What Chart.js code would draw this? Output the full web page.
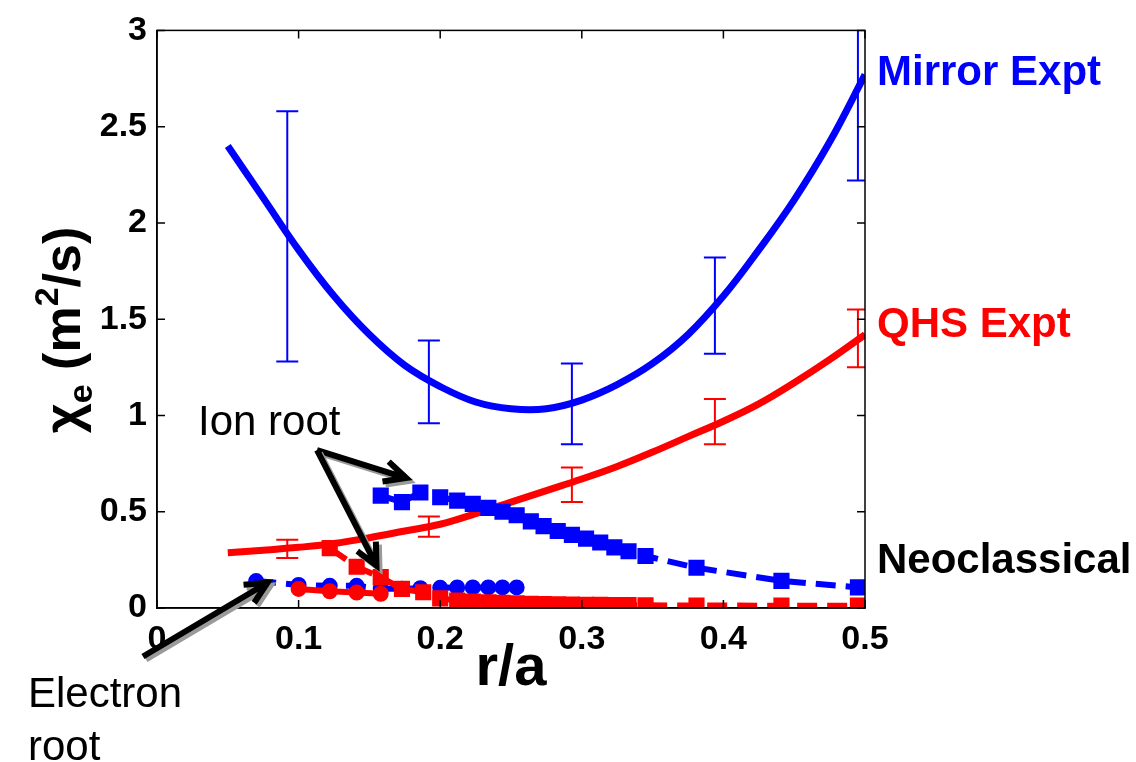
<!DOCTYPE html>
<html>
<head>
<meta charset="utf-8">
<script src="https://cdn.jsdelivr.net/npm/chart.js@4.4.1/dist/chart.umd.min.js"></script>
<style>
  html, body { margin: 0; padding: 0; background: #fff; }
  #wrap { width: 1136px; height: 762px; }
</style>
</head>
<body>
<div id="wrap"><canvas id="chart" width="1136" height="762"></canvas></div>
<script>
/* ── Experimental fits (solid lines) ─────────────────────────── */
const rExpt      = [0.05, 0.075, 0.1, 0.125, 0.15, 0.175, 0.2, 0.225, 0.25, 0.275, 0.3, 0.325, 0.35, 0.375, 0.4, 0.425, 0.45, 0.475, 0.5];
const mirrorExpt = [2.40, 2.13, 1.86, 1.62, 1.42, 1.26, 1.15, 1.07, 1.035, 1.035, 1.08, 1.16, 1.27, 1.42, 1.62, 1.86, 2.12, 2.42, 2.77];
const qhsExpt    = [0.287, 0.30, 0.315, 0.335, 0.365, 0.40, 0.435, 0.49, 0.55, 0.61, 0.67, 0.735, 0.81, 0.89, 0.97, 1.06, 1.17, 1.29, 1.42];

/* ── Error bars ───────────────────────────────────────────────── */
const rErr     = [0.092, 0.192, 0.293, 0.394, 0.495];
const mirrorLo = [1.28, 0.96, 0.85, 1.32, 2.22];
const mirrorHi = [2.58, 1.39, 1.27, 1.82, 3.30];
const qhsLo    = [0.26, 0.37, 0.55, 0.85, 1.25];
const qhsHi    = [0.355, 0.475, 0.73, 1.085, 1.55];

/* ── Neoclassical: ion root (squares) ─────────────────────────── */
const rIonMirror = [0.158, 0.173, 0.186, 0.2, 0.212, 0.223, 0.234, 0.244, 0.254, 0.264, 0.273, 0.283, 0.293, 0.303, 0.313, 0.323, 0.333, 0.345, 0.381, 0.441, 0.495];
const ionMirror  = [0.584, 0.55, 0.60, 0.575, 0.558, 0.541, 0.52, 0.50, 0.482, 0.45, 0.425, 0.40, 0.38, 0.36, 0.34, 0.315, 0.295, 0.27, 0.209, 0.141, 0.107];
const rIonQhs    = [0.122, 0.141, 0.158, 0.173, 0.188, 0.2, 0.212, 0.223, 0.234, 0.244, 0.254, 0.264, 0.273, 0.283, 0.293, 0.303, 0.313, 0.323, 0.333, 0.345, 0.381, 0.441, 0.495];
const ionQhs     = [0.311, 0.214, 0.16, 0.099, 0.082, 0.05, 0.039, 0.034, 0.03, 0.027, 0.024, 0.022, 0.02, 0.019, 0.018, 0.017, 0.016, 0.015, 0.015, 0.014, 0.013, 0.012, 0.012];

/* ── Neoclassical: electron root (circles) ────────────────────── */
const rElecMirror = [0.07, 0.1, 0.122, 0.141, 0.158, 0.173, 0.186, 0.2, 0.212, 0.223, 0.234, 0.244, 0.254];
const elecMirror  = [0.14, 0.12, 0.115, 0.115, 0.10, 0.10, 0.103, 0.105, 0.107, 0.107, 0.107, 0.107, 0.107];
const rElecQhs    = [0.1, 0.122, 0.141, 0.158];
const elecQhs     = [0.099, 0.087, 0.08, 0.074];

/* ── Axis ticks ───────────────────────────────────────────────── */
const xTicks = [0, 0.1, 0.2, 0.3, 0.4, 0.5];
const yTicks = [0, 0.5, 1, 1.5, 2, 2.5, 3];

/* ── Annotation arrows (data coords) ──────────────────────────── */
const arrows = [
  { from: [0.113, 0.82], to: [0.176, 0.675] },
  { from: [0.113, 0.82], to: [0.155, 0.22] },
  { from: [-0.0099, -0.252], to: [0.078, 0.131] },
];

const BLUE = '#0000ff', RED = '#ff0000';
const FONT = '"Liberation Sans", Arial, sans-serif';
const pts = (xs, ys) => xs.map((x, i) => ({ x, y: ys[i] }));

// ── error bars under the neoclassical markers
const errorBars = {
  id: 'errorBars',
  beforeDatasetsDraw(chart) {
    const { ctx, chartArea: a, scales: { x, y } } = chart;
    ctx.save();
    ctx.beginPath();
    ctx.rect(a.left, a.top, a.right - a.left, a.bottom - a.top);
    ctx.clip();
    ctx.lineWidth = 2;
    const draw = (lo, hi, color) => {
      ctx.strokeStyle = color;
      rErr.forEach((r, i) => {
        const px = x.getPixelForValue(r);
        const y1 = y.getPixelForValue(lo[i]);
        const y2 = y.getPixelForValue(hi[i]);
        ctx.beginPath();
        ctx.moveTo(px, y1); ctx.lineTo(px, y2);
        ctx.moveTo(px - 11, y1); ctx.lineTo(px + 11, y1);
        ctx.moveTo(px - 11, y2); ctx.lineTo(px + 11, y2);
        ctx.stroke();
      });
    };
    draw(mirrorLo, mirrorHi, BLUE);
    draw(qhsLo, qhsHi, RED);
    ctx.restore();
  }
};

// ── box + inward ticks (matlab style)
const frame = {
  id: 'frame',
  afterDatasetsDraw(chart) {
    const { ctx, chartArea: a, scales: { x, y } } = chart;
    ctx.save();
    ctx.strokeStyle = '#000';
    ctx.lineWidth = 1.5;
    ctx.strokeRect(a.left, a.top, a.right - a.left, a.bottom - a.top);
    ctx.beginPath();
    xTicks.forEach(v => {
      const px = x.getPixelForValue(v);
      ctx.moveTo(px, a.bottom); ctx.lineTo(px, a.bottom - 8);
      ctx.moveTo(px, a.top); ctx.lineTo(px, a.top + 8);
    });
    yTicks.forEach(v => {
      const py = y.getPixelForValue(v);
      ctx.moveTo(a.left, py); ctx.lineTo(a.left + 8, py);
      ctx.moveTo(a.right, py); ctx.lineTo(a.right - 8, py);
    });
    ctx.stroke();
    ctx.restore();
  }
};

function drawArrow(ctx, x1, y1, x2, y2) {
  const ang = Math.atan2(y2 - y1, x2 - x1);
  const hl = 24, ha = 0.45;
  const path = (dx, dy) => {
    ctx.beginPath();
    ctx.moveTo(x1 + dx, y1 + dy);
    ctx.lineTo(x2 + dx, y2 + dy);
    ctx.moveTo(x2 + dx - hl * Math.cos(ang - ha), y2 + dy - hl * Math.sin(ang - ha));
    ctx.lineTo(x2 + dx, y2 + dy);
    ctx.lineTo(x2 + dx - hl * Math.cos(ang + ha), y2 + dy - hl * Math.sin(ang + ha));
    ctx.stroke();
  };
  ctx.lineWidth = 6;
  ctx.lineCap = 'butt';
  ctx.lineJoin = 'miter';
  ctx.strokeStyle = '#9a9a9a';
  path(3, 3);
  ctx.strokeStyle = '#000';
  path(0, 0);
}

// ── labels, arrows, y-axis title
const annotations = {
  id: 'annotations',
  afterDraw(chart) {
    const { ctx, scales: { x, y } } = chart;
    ctx.save();

    arrows.forEach(a => drawArrow(ctx,
      x.getPixelForValue(a.from[0]), y.getPixelForValue(a.from[1]),
      x.getPixelForValue(a.to[0]), y.getPixelForValue(a.to[1])));

    ctx.textBaseline = 'alphabetic';
    ctx.textAlign = 'left';
    ctx.font = `bold 42px ${FONT}`;
    ctx.fillStyle = BLUE;  ctx.fillText('Mirror Expt', 877, 85);
    ctx.fillStyle = RED;   ctx.fillText('QHS Expt', 877, 337);
    ctx.fillStyle = '#000'; ctx.fillText('Neoclassical', 877, 573);

    ctx.font = `42px ${FONT}`;
    ctx.fillText('Ion root', 198, 435);
    ctx.fillText('Electron', 28, 707);
    ctx.fillText('root', 28, 760);

    // y title: χ_e (m^2/s)
    const big = `bold 52px ${FONT}`, small = `bold 34px ${FONT}`;
    const parts = [
      { t: 'χ', f: big, dy: 0 },
      { t: 'e', f: small, dy: 12 },
      { t: ' (m', f: big, dy: 0 },
      { t: '2', f: small, dy: -22 },
      { t: '/s)', f: big, dy: 0 },
    ];
    let total = 0;
    parts.forEach(p => { ctx.font = p.f; p.w = ctx.measureText(p.t).width; total += p.w; });
    ctx.translate(62, 330);
    ctx.rotate(-Math.PI / 2);
    let cx = -total / 2;
    parts.forEach(p => { ctx.font = p.f; ctx.fillText(p.t, cx, 18 + p.dy); cx += p.w; });
    ctx.restore();
  }
};

const solid = (data, color, order) => ({
  data, borderColor: color, backgroundColor: color, borderWidth: 7,
  pointRadius: 0, tension: 0.4, order,
});
const neo = (data, color, style, dashed, order) => ({
  data, borderColor: color, backgroundColor: color, borderWidth: 6,
  borderDash: dashed ? [20, 10] : [],
  pointStyle: style, pointRadius: style === 'rect' ? 10 : 7,
  pointBorderWidth: 2, pointBorderColor: color, pointBackgroundColor: color,
  tension: 0, order,
});

new Chart(document.getElementById('chart'), {
  type: 'line',
  data: {
    datasets: [
      solid(pts(rExpt, mirrorExpt), BLUE, 5),
      solid(pts(rExpt, qhsExpt), RED, 4),
      neo(pts(rIonMirror, ionMirror), BLUE, 'rect', true, 3),
      neo(pts(rElecMirror, elecMirror), BLUE, 'circle', true, 2),
      neo(pts(rIonQhs, ionQhs), RED, 'rect', true, 1),
      neo(pts(rElecQhs, elecQhs), RED, 'circle', false, 0),
    ]
  },
  options: {
    responsive: false,
    animation: false,
    layout: { padding: { left: 0, top: 20, right: 271, bottom: 0 } },
    plugins: { legend: { display: false }, tooltip: { enabled: false } },
    scales: {
      x: {
        type: 'linear', min: 0, max: 0.5,
        afterFit: s => { s.height = 154; },
        afterBuildTicks: s => { s.ticks = xTicks.map(v => ({ value: v })); },
        grid: { display: false, drawTicks: false },
        border: { display: true, color: '#000', width: 1.5 },
        ticks: {
          color: '#000', padding: 11, maxRotation: 0,
          font: { family: FONT, size: 34, weight: 'bold' },
          callback: v => v === 0 ? '0' : v.toFixed(1),
        },
        title: {
          display: true, text: 'r/a', color: '#000',
          font: { family: FONT, size: 58, weight: 'bold' },
          padding: { top: 0, bottom: 58 },
        },
      },
      y: {
        type: 'linear', min: 0, max: 3,
        afterFit: s => { s.width = 157; },
        afterBuildTicks: s => { s.ticks = yTicks.map(v => ({ value: v })); },
        grid: { display: false, drawTicks: false },
        border: { display: true, color: '#000', width: 1.5 },
        ticks: {
          color: '#000', padding: 10,
          font: { family: FONT, size: 34, weight: 'bold' },
          callback: v => String(v),
        },
      },
    },
  },
  plugins: [errorBars, frame, annotations],
});
</script>
</body>
</html>
